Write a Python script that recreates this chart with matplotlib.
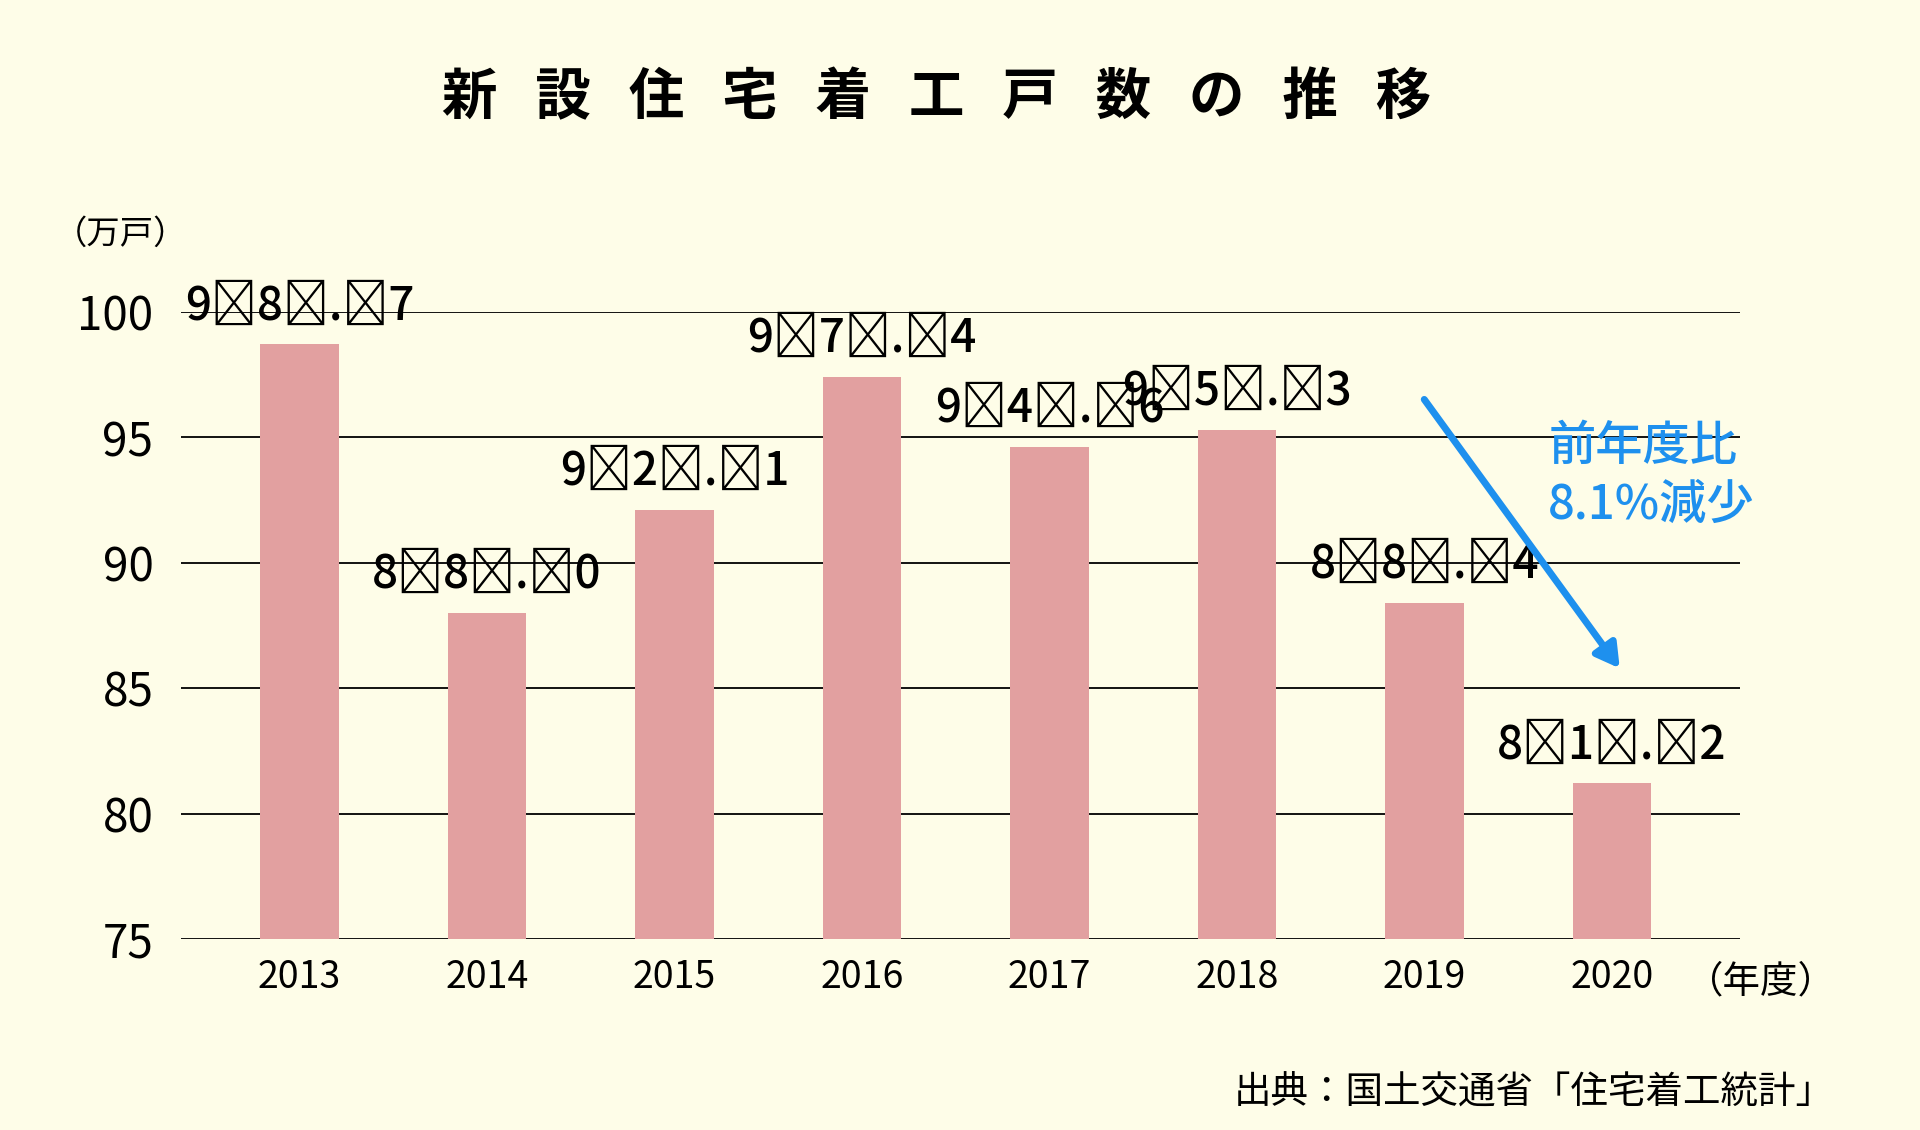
import matplotlib
matplotlib.use("Agg")
import matplotlib.pyplot as plt

plt.rcParams["font.family"] = "Noto Sans CJK JP"

years = ["2013", "2014", "2015", "2016", "2017", "2018", "2019", "2020"]
values = [98.7, 88.0, 92.1, 97.4, 94.6, 95.3, 88.4, 81.2]
yticks = [75, 80, 85, 90, 95, 100]

bg = "#fefde8"
fig = plt.figure(figsize=(19.2, 11.3), dpi=100, facecolor=bg)
ax = fig.add_axes([0.0944, 0.169, 0.8116, 0.555], facecolor=bg)

x = list(range(len(years)))
ax.bar(x, values, width=0.42, color="#e2a0a0", zorder=3)
for xi, v in zip(x, values):
    lab = "\u2009".join(f"{v:.1f}")
    ax.text(xi, v + 0.6, lab, ha="center", va="bottom", fontsize=33,
            fontweight="medium", zorder=4)

ax.set_ylim(75, 100)
ax.set_xlim(-0.63, 7.68)
ax.set_yticks(yticks)
ax.set_yticklabels([str(t) for t in yticks], fontsize=33)
ax.set_xticks(x)
ax.set_xticklabels(years, fontsize=27)
ax.tick_params(length=0, pad=14)
ax.tick_params(axis="y", pad=20)
for s in ax.spines.values():
    s.set_visible(False)
for t in yticks:
    ax.axhline(t, color="black", lw=1.3, zorder=2)

ax.annotate("", xy=(7.05, 85.7), xytext=(5.99, 96.6),
            arrowprops=dict(arrowstyle="-|>,head_width=0.8,head_length=1.4",
                            color="#1e90ee", lw=5), zorder=5)
ax.text(6.66, 95.6, "前年度比\n8.1%減少", color="#1e90ee", fontsize=34,
        fontweight="medium", ha="left", va="top", linespacing=1.25, zorder=5)

fig.text(0.488, 0.913, "   ".join("新設住宅着工戸数の推移"), ha="center", va="center",
         fontsize=40, fontweight="bold")
fig.text(0.063, 0.793, "（万戸）", ha="center", va="center", fontsize=24)
fig.text(0.917, 0.131, "（年度）", ha="center", va="center", fontsize=27)
fig.text(0.955, 0.033, "出典：国土交通省「住宅着工統計」", ha="right", va="center", fontsize=27)

fig.savefig("out.png", dpi=100, facecolor=bg)
